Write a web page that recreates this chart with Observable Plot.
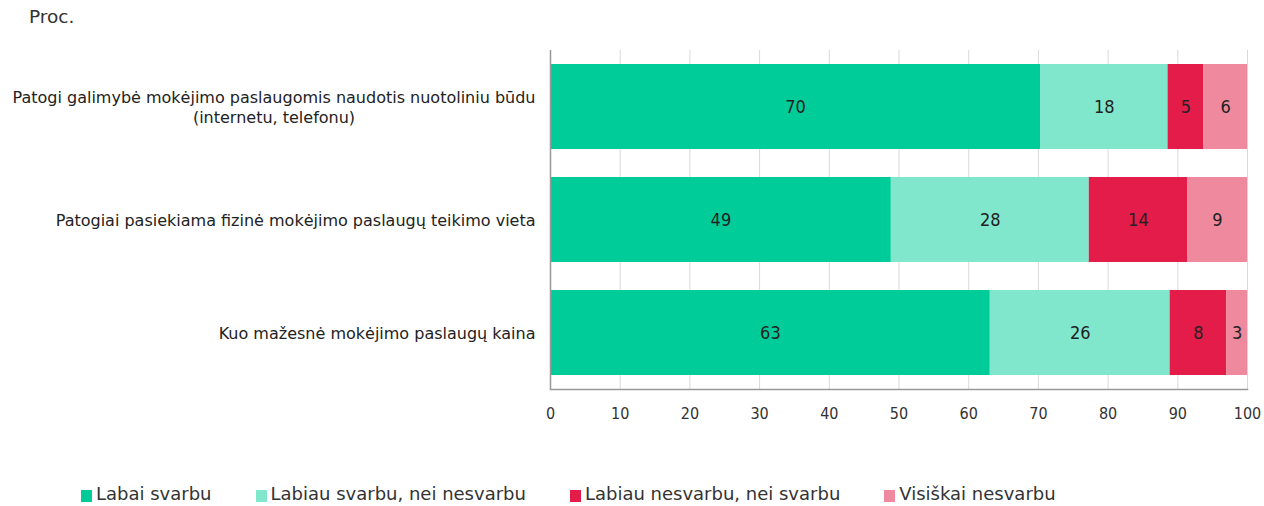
<!DOCTYPE html>
<html><head><meta charset="utf-8">
<script src="https://cdn.jsdelivr.net/npm/d3@7"></script>
<script src="https://cdn.jsdelivr.net/npm/@observablehq/plot@0.6"></script>
<style>
body{margin:0;background:#fff;}
#wrap{position:relative;width:1264px;height:506px;font-family:"DejaVu Sans",Verdana,sans-serif;}
#unit{position:absolute;left:29px;top:6px;font-size:18.5px;color:#333;}
#chart{position:absolute;left:0;top:0;}
#legend{position:absolute;left:81px;top:483px;display:flex;font-family:"DejaVu Sans",Verdana,sans-serif;font-size:18px;color:#333;}
.item{display:flex;align-items:center;margin-right:44px;}
.sw{width:11px;height:12px;margin-right:4px;margin-top:4px;}
</style></head>
<body><div id="wrap"><div id="unit">Proc.</div><div id="chart"></div><div id="legend"></div></div>
<script>
const categories = [
  "Patogi galimybė mokėjimo paslaugomis naudotis nuotoliniu būdu\n(internetu, telefonu)",
  "Patogiai pasiekiama fizinė mokėjimo paslaugų teikimo vieta",
  "Kuo mažesnė mokėjimo paslaugų kaina"
];
const series = ["Labai svarbu", "Labiau svarbu, nei nesvarbu", "Labiau nesvarbu, nei svarbu", "Visiškai nesvarbu"];
const colors = ["#00cc99", "#80e6cc", "#e31c4a", "#ef8a9e"];
const labaiSvarbu = [70.3, 48.9, 63.1];
const labiauSvarbu = [18.3, 28.4, 25.8];
const labiauNesvarbu = [5.1, 14.1, 8.1];
const visiskaiNesvarbu = [6.3, 8.6, 3.0];
const xTicks = [0,10,20,30,40,50,60,70,80,90,100];

const seriesValues = [labaiSvarbu, labiauSvarbu, labiauNesvarbu, visiskaiNesvarbu];
const data = [];
categories.forEach((c, i) => series.forEach((s, j) => data.push({cat: c, series: s, value: seriesValues[j][i]})));

const plot = Plot.plot({
  width: 1264, height: 430,
  marginLeft: 550, marginRight: 17, marginTop: 50, marginBottom: 41,
  style: {fontFamily: "'DejaVu Sans',sans-serif", fontSize: "16px", color: "#333", background: "transparent"},
  x: {domain: [0, 100], ticks: xTicks, label: null},
  y: {domain: categories, label: null, paddingInner: 0.25, paddingOuter: 0.125},
  color: {domain: series, range: colors},
  marks: [
    Plot.gridX(xTicks, {stroke: "#d9d9d9", strokeOpacity: 1}),
    Plot.barX(data, Plot.stackX({x: "value", y: "cat", fill: "series", z: "series"})),
    Plot.text(data, Plot.stackX({x: "value", y: "cat", z: "series", text: d => Math.round(d.value), fill: "#222", fontSize: 18, fontFamily: "'Liberation Sans Narrow','Arial Narrow','DejaVu Sans Condensed',sans-serif"})),
    Plot.axisX({ticks: xTicks, tickSize: 0, tickPadding: 18, fontSize: 16, fontFamily: "'DejaVu Sans Condensed','DejaVu Sans',sans-serif", fill: "#333"}),
    Plot.axisY({tickSize: 0, tickPadding: 15, textAnchor: "end", fontSize: 16, lineHeight: 1.25, fontFamily: "'DejaVu Sans',Verdana,sans-serif", fill: "#222", lineWidth: 100}),
    Plot.ruleX([0], {stroke: "#999", strokeWidth: 1.5}),
    Plot.frame({anchor: "bottom", stroke: "#999", strokeWidth: 1.5})
  ]
});
document.getElementById("chart").appendChild(plot);

// center multi-line y labels
plot.querySelectorAll("g[aria-label='y-axis tick label'] text").forEach(t => {
  const tspans = t.querySelectorAll("tspan");
  if (tspans.length > 1) {
    const w = t.getBBox().width;
    t.setAttribute("text-anchor", "middle");
    const tr = t.getAttribute("transform") || "";
    t.setAttribute("transform", tr + ` translate(${-w/2},0)`);
  }
});

const leg = document.getElementById("legend");
series.forEach((s, i) => {
  const it = document.createElement("div"); it.className = "item";
  const sw = document.createElement("div"); sw.className = "sw"; sw.style.background = colors[i];
  const tx = document.createElement("span"); tx.textContent = s;
  it.appendChild(sw); it.appendChild(tx); leg.appendChild(it);
});
</script></body></html>
